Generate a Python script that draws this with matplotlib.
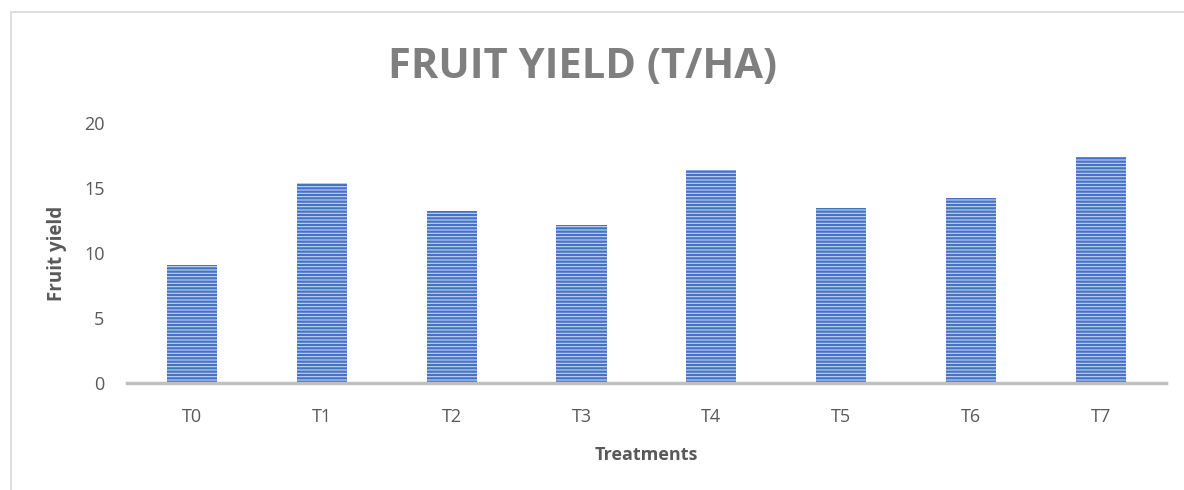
import matplotlib.pyplot as plt
from matplotlib.patches import Rectangle

plt.rcParams['font.family'] = ['Open Sans', 'DejaVu Sans']
plt.rcParams['hatch.linewidth'] = 1.6
plt.rcParams['hatch.color'] = '#4472C4'

# data
treatments = ['T0', 'T1', 'T2', 'T3', 'T4', 'T5', 'T6', 'T7']
fruit_yield = [9.05, 15.4, 13.2, 12.15, 16.4, 13.5, 14.2, 17.4]
y_ticks = [0, 5, 10, 15, 20]

fig = plt.figure(figsize=(11.84, 4.9), dpi=100)
ax = fig.add_axes([0.107, 0.218, 0.878, 0.531])

# chart border
fig.patches.append(Rectangle((0.009, -0.01), 1.1, 0.985, transform=fig.transFigure,
                             fill=False, edgecolor='#D9D9D9', linewidth=1.2))

ax.bar(treatments, fruit_yield, width=0.385, color='#C5D5F0',
       edgecolor='#4472C4', hatch='-----', linewidth=0)

ax.set_ylim(0, 20)
ax.set_xlim(-0.5, 7.5)
ax.set_yticks(y_ticks)

for s in ['top', 'right', 'left']:
    ax.spines[s].set_visible(False)
ax.spines['bottom'].set_color('#BFBFBF')
ax.spines['bottom'].set_linewidth(2.5)
ax.tick_params(axis='both', length=0, labelsize=13, colors='#595959')
ax.tick_params(axis='x', pad=18)
ax.tick_params(axis='y', pad=16)

ax.set_xlabel('Treatments', fontsize=13, fontweight='bold', color='#595959', labelpad=14)
ax.set_ylabel('Fruit yield', fontsize=13.5, fontweight='bold', color='#595959', labelpad=12)

fig.text(0.492, 0.862, 'FRUIT YIELD (T/HA)', ha='center', va='center',
         fontsize=30, fontweight='bold', color='#7F7F7F')

fig.savefig('out.png', dpi=100)
